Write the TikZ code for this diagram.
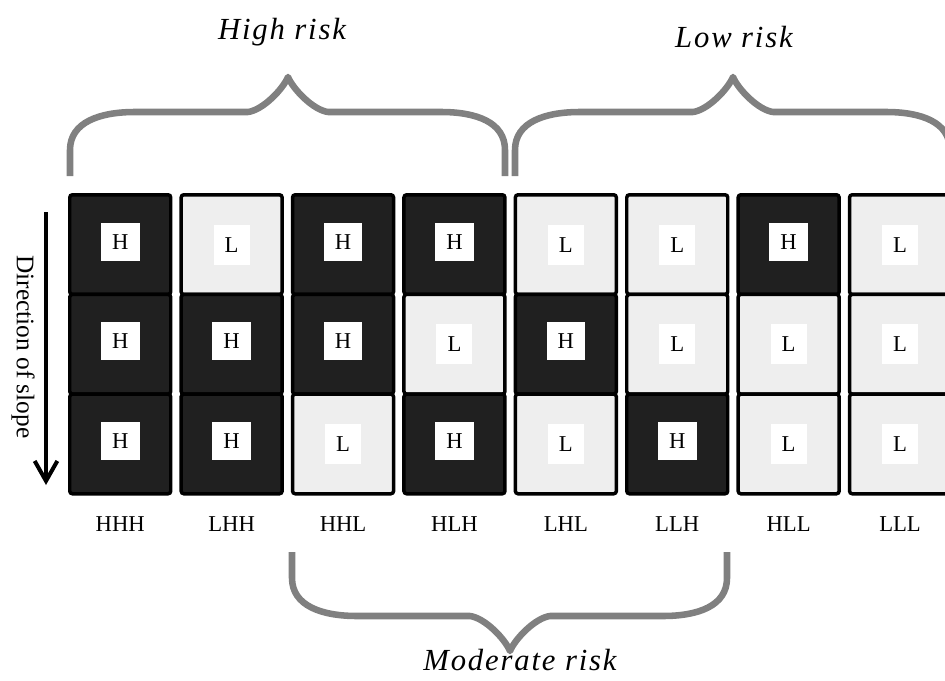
\documentclass[tikz,border=0pt]{standalone}
\usepackage{fontspec}
\setmainfont{Liberation Serif}
\usepackage{tikz}
\usetikzlibrary{arrows.meta, positioning}
\definecolor{cellhigh}{RGB}{32, 32, 32}
\definecolor{celllow}{RGB}{238, 238, 238}
\definecolor{bracegray}{RGB}{128, 128, 128}

\begin{document}
\begin{tikzpicture}[
    x=0.75pt, y=-0.75pt,
    cell/.style={draw=black, line width=2.6pt, rounded corners=2pt, minimum width=75.75pt, minimum height=74.75pt, inner sep=0pt, outer sep=0pt, font=\fontsize{17}{20}\selectfont},
    hcell/.style={cell, fill=cellhigh, text depth=4.5pt, path picture={\fill[white, sharp corners] ([shift={(-14.5pt,-12pt)}]path picture bounding box.center) rectangle +(29pt,28.5pt);}},
    lcell/.style={cell, fill=celllow, path picture={\fill[white, sharp corners] ([shift={(-13.5pt,-15pt)}]path picture bounding box.center) rectangle +(27pt,30pt);}},
    colname/.style={inner sep=0pt, font=\fontsize{17}{20}\selectfont},
    risk/.style={anchor=base, font=\fontsize{23}{28}\selectfont\itshape\addfontfeature{LetterSpace=6}},
    arrow/.style={-{Straight Barb[length=15pt, width=17pt]}, line width=3pt},
    riskbrace/.pic={\draw[bracegray, line width=4.9pt, line join=round] (-218,99) -- (-218,73) .. controls (-218,45) and (-188,35) .. (-153,35) -- (-40,35) .. controls (-25,33) and (-5,12) .. (0,0) .. controls (5,12) and (25,33) .. (40,35) -- (153,35) .. controls (188,35) and (217,45) .. (217,73) -- (217,99);}
]
    \useasboundingbox (0,0) rectangle (945,681);
    \clip (0,0) rectangle (945,681);

    % Cells - HHH
    \node[hcell] (hhh1) at (120.25,244.6) {H};
    \node[hcell, below=0pt of hhh1] (hhh2) {H};
    \node[hcell, below=0pt of hhh2] (hhh3) {H};
    % Cells - LHH
    \node[lcell, right=7.8pt of hhh1] (lhh1) {L};
    \node[hcell, below=0pt of lhh1] (lhh2) {H};
    \node[hcell, below=0pt of lhh2] (lhh3) {H};
    % Cells - HHL
    \node[hcell, right=7.8pt of lhh1] (hhl1) {H};
    \node[hcell, below=0pt of hhl1] (hhl2) {H};
    \node[lcell, below=0pt of hhl2] (hhl3) {L};
    % Cells - HLH
    \node[hcell, right=7.8pt of hhl1] (hlh1) {H};
    \node[lcell, below=0pt of hlh1] (hlh2) {L};
    \node[hcell, below=0pt of hlh2] (hlh3) {H};
    % Cells - LHL
    \node[lcell, right=7.8pt of hlh1] (lhl1) {L};
    \node[hcell, below=0pt of lhl1] (lhl2) {H};
    \node[lcell, below=0pt of lhl2] (lhl3) {L};
    % Cells - LLH
    \node[lcell, right=7.8pt of lhl1] (llh1) {L};
    \node[lcell, below=0pt of llh1] (llh2) {L};
    \node[hcell, below=0pt of llh2] (llh3) {H};
    % Cells - HLL
    \node[hcell, right=7.8pt of llh1] (hll1) {H};
    \node[lcell, below=0pt of hll1] (hll2) {L};
    \node[lcell, below=0pt of hll2] (hll3) {L};
    % Cells - LLL
    \node[lcell, right=7.8pt of hll1] (lll1) {L};
    \node[lcell, below=0pt of lll1] (lll2) {L};
    \node[lcell, below=0pt of lll2] (lll3) {L};

    % Column names
    \node[colname, below=16.9pt of hhh3] (hhh) {HHH};
    \node[colname, below=16.9pt of lhh3] (lhh) {LHH};
    \node[colname, below=16.9pt of hhl3] (hhl) {HHL};
    \node[colname, below=16.9pt of hlh3] (hlh) {HLH};
    \node[colname, below=16.9pt of lhl3] (lhl) {LHL};
    \node[colname, below=16.9pt of llh3] (llh) {LLH};
    \node[colname, below=16.9pt of hll3] (hll) {HLL};
    \node[colname, below=16.9pt of lll3] (lll) {LLL};

    % Slope direction
    \node[rotate=-90, font=\fontsize{19}{22}\selectfont] (slope) at (23,347) {Direction of slope};
    \coordinate (slopetop) at (46,212);
    \coordinate (slopeend) at (46,485);
    \draw[arrow] (slopetop) -- (slopeend);

    % Braces and risk classes
    \pic at (288,77) {riskbrace};
    \pic at (733,77) {riskbrace};
    \pic[yscale=-1] at (510,651) {riskbrace};
    \node[risk] (high) at (282,40) {High risk};
    \node[risk] (low) at (734,48) {Low risk};
    \node[risk] (moderate) at (520,670) {Moderate risk};
\end{tikzpicture}
\end{document}
